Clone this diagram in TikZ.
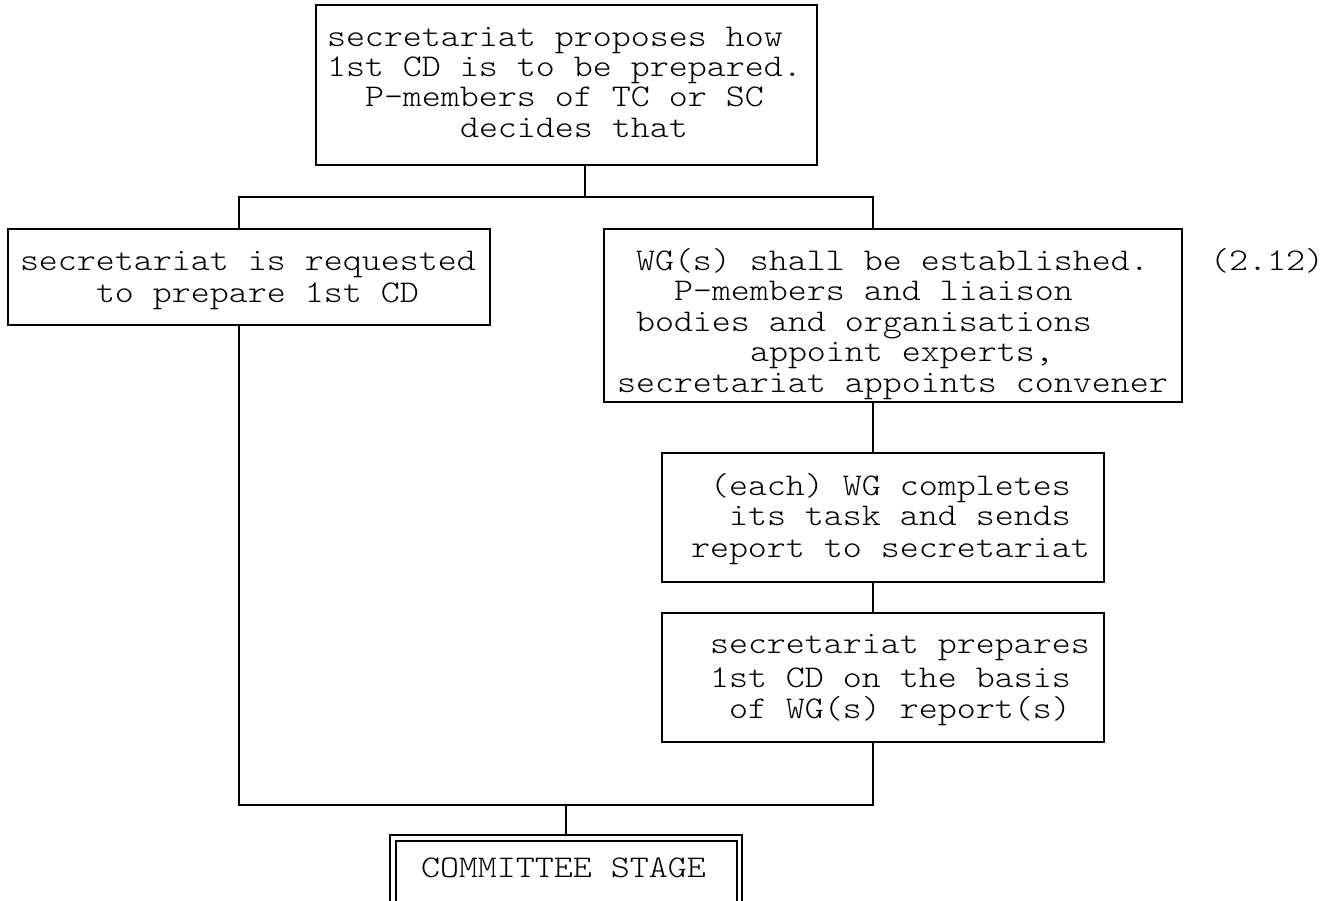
\documentclass[tikz,border=0pt]{standalone}
\usepackage{fontspec}
\newfontfamily\courfont{lmmonolt10-regular.otf}[FakeStretch=1.145]
\usetikzlibrary{calc}

\tikzset{
  frame/.style={draw, line width=2.4pt, rectangle, inner sep=0pt, outer sep=0pt, anchor=north west},
  hidden/.style={rectangle, inner sep=0pt, outer sep=0pt, anchor=north west},
  wire/.style={line width=2.4pt, line cap=rect},
  txt/.style={inner sep=0pt, outer sep=0pt, anchor=base west,
    font=\courfont\fontsize{31.6}{32}\selectfont},
}

% one line of box text, placed by its first character cell and baseline
\newcommand\tline[4]{\node[txt] (#1) at (#2,#3) {#4};}

\begin{document}
\begin{tikzpicture}[x=1pt, y=-1pt]
\useasboundingbox (0,0) rectangle (1335,901);

% boxes
\node[frame, minimum width=501pt, minimum height=160pt] (top)  at (316,5)   {};
\node[frame, minimum width=482pt, minimum height=96pt]  (left) at (8,229)   {};
\node[frame, minimum width=578pt, minimum height=173pt] (wg)   at (604,229) {};
\node[frame, minimum width=442pt, minimum height=129pt] (each) at (662,453) {};
\node[frame, minimum width=442pt, minimum height=129pt] (prep) at (662,613) {};
\node[hidden, minimum width=352pt, minimum height=66pt] (cs)   at (390,835) {};

% texts
\tline{top1}{327}{47}{secretariat proposes how}
\tline{top2}{327}{77}{1st CD is to be prepared.}
\tline{top3}{365}{107}{P-members of TC or SC}
\tline{top4}{460}{138}{decides that}

\tline{left1}{20}{271}{secretariat is requested}
\tline{left2}{96}{302}{to prepare 1st CD}

\tline{wg1}{636}{270}{WG(s) shall be established.}
\tline{wg2}{674}{300}{P-members and liaison}
\tline{wg3}{636}{331}{bodies and organisations}
\tline{wg4}{750}{361}{appoint experts,}
\tline{wg5}{617}{392}{secretariat appoints convener}

\tline{each1}{710}{495}{(each) WG completes}
\tline{each2}{729}{525}{its task and sends}
\tline{each3}{691}{557}{report to secretariat}

\tline{prep1}{710}{653}{secretariat prepares}
\tline{prep2}{710}{687}{1st CD on the basis}
\tline{prep3}{729}{718}{of WG(s) report(s)}

\tline{ref}{1210}{271}{(2.12)}
\tline{csl}{421}{877}{COMMITTEE STAGE}

% double frame of the final stage, open at the bottom
\draw[line width=2.4pt] (cs.south west) -- (cs.north west) -- (cs.north east) -- (cs.south east);
\draw[line width=2.4pt] ($(cs.south west)+(6,0)$) -- ($(cs.north west)+(6,6)$)
  -- ($(cs.north east)+(-5,6)$) -- ($(cs.south east)+(-5,0)$);

% connector junctions
\coordinate (bT) at (585,197);
\coordinate (bL) at (239,197);
\coordinate (bR) at (873,197);
\coordinate (mL) at (239,805);
\coordinate (mC) at (566,805);
\coordinate (mR) at (873,805);

\draw[wire] (top.south -| bT) -- (bT);
\draw[wire] (left.north -| bL) -- (bL) -- (bR) -- (wg.north -| bR);
\draw[wire] (wg.south -| bR) -- (each.north -| bR);
\draw[wire] (each.south -| bR) -- (prep.north -| bR);
\draw[wire] (left.south -| mL) -- (mL) -- (mR) -- (prep.south -| mR);
\draw[wire] (mC) -- (cs.north -| mC);
\end{tikzpicture}
\end{document}
